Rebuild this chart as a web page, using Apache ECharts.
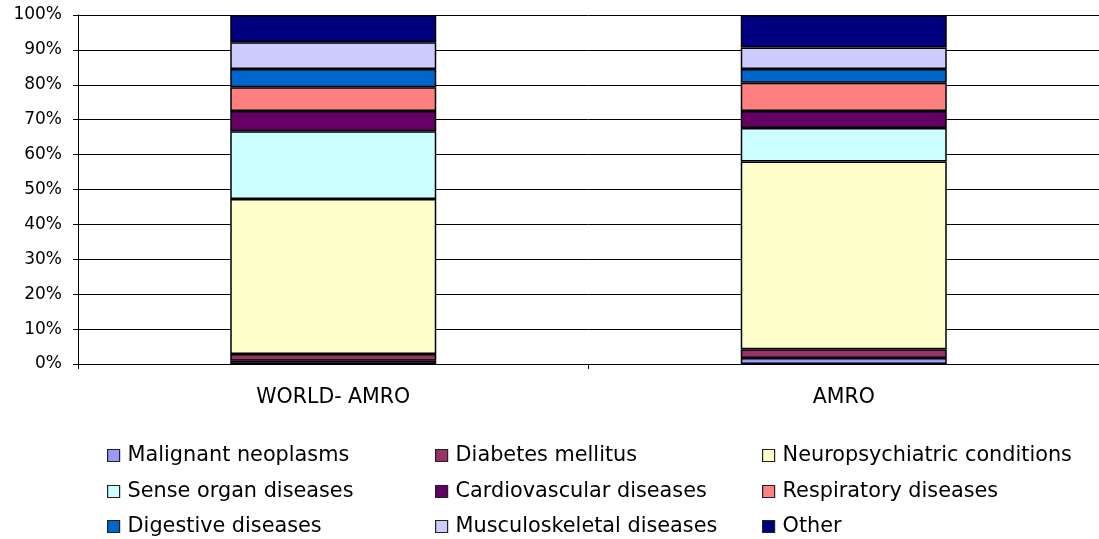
<!DOCTYPE html>
<html><head><meta charset="utf-8">
<script src="https://cdn.jsdelivr.net/npm/echarts@6/dist/echarts.min.js"></script>
<style>html,body{margin:0;padding:0;background:#fff;overflow:hidden}#c{width:1099px;height:539px}</style>
</head><body><div id="c"></div>
<script>
const categories = ['WORLD- AMRO', 'AMRO'];
const seriesNames = ['Malignant neoplasms','Diabetes mellitus','Neuropsychiatric conditions','Sense organ diseases','Cardiovascular diseases','Respiratory diseases','Digestive diseases','Musculoskeletal diseases','Other'];
const malignant = [0.9, 1.7];
const diabetes = [2.0, 2.5];
const neuro = [44.4, 53.8];
const sense = [19.4, 9.6];
const cardio = [5.8, 4.9];
const respiratory = [6.8, 8.1];
const digestive = [5.2, 3.9];
const musculo = [7.7, 6.2];
const other = [7.8, 9.3];
const colors = ['#9999FF','#993366','#FFFFCC','#CCFFFF','#660066','#FF8080','#0066CC','#CCCCFF','#000080'];
const values = [malignant, diabetes, neuro, sense, cardio, respiratory, digestive, musculo, other];

const font = 'DejaVu Sans';
const chart = echarts.init(document.getElementById('c'), null, {renderer:'canvas'});
const legendLeft = [107, 435, 762];
const legendTop = [445, 481, 516];
chart.setOption({
  animation:false,
  color: colors,
  grid:{left:78, right:-5, top:15, bottom:175},
  xAxis:{type:'category', data:categories,
    axisLine:{lineStyle:{color:'#000', width:1}},
    axisTick:{show:true, length:5, lineStyle:{color:'#000'}},
    axisLabel:{color:'#000', fontFamily:font, fontSize:20.5, margin:23}},
  yAxis:{type:'value', min:0, max:100, interval:10,
    axisLine:{show:true, lineStyle:{color:'#000'}},
    axisTick:{show:true, length:5, lineStyle:{color:'#000'}},
    splitLine:{lineStyle:{color:'#000', width:1}},
    axisLabel:{color:'#000', fontFamily:font, fontSize:17, margin:16, formatter:'{value}%'}},
  legend: seriesNames.map((n,k)=>({
    orient:'horizontal', left:legendLeft[k%3], top:legendTop[Math.floor(k/3)], padding:0,
    itemWidth:12, itemHeight:12,
    icon:'rect',
    itemStyle:{borderColor:'#222', borderWidth:1.2},
    textStyle:{color:'#000', fontFamily:font, fontSize:20.8, padding:[0,0,0,3]},
    data:[n]
  })),
  series: seriesNames.map((n,i)=>({
    name:n, type:'bar', stack:'all', barWidth:206,
    data: values[i],
    itemStyle:{color:colors[i], borderColor:'#000', borderWidth:1.5}
  }))
});
</script></body></html>
